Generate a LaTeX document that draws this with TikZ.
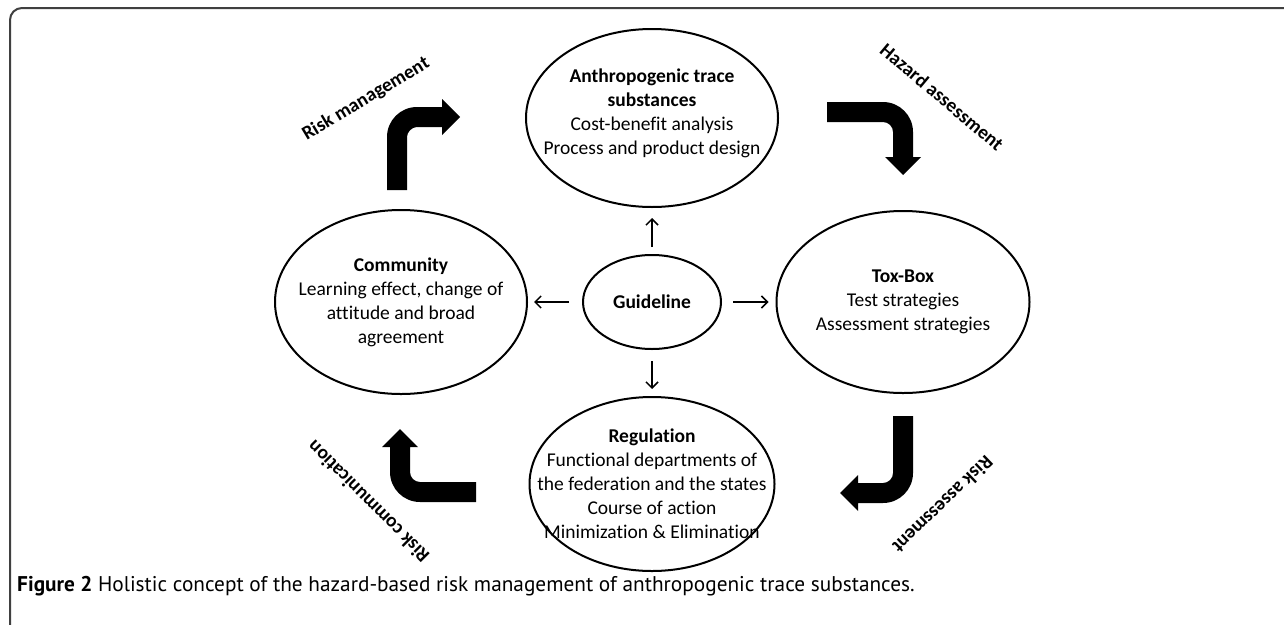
\documentclass[tikz,border=0pt]{standalone}
\usepackage{fontspec}
\setmainfont{Carlito}[Ligatures=NoCommon]
\newfontfamily\capfont{PT Sans}
\usetikzlibrary{shapes.geometric,arrows.meta}
\begin{document}
\begin{tikzpicture}[x=1pt,y=-1pt,
  oval/.style={ellipse, draw, line width=2pt, inner sep=0pt},
  txt/.style={align=center, font=\fontsize{19.5}{24}\selectfont, inner sep=0pt},
  lbl/.style={font=\bfseries\fontsize{19.5}{24}\selectfont, inner sep=0pt},
  spoke/.style={line width=1.5pt, -{Straight Barb[length=6pt,width=12pt]}},
  bendarrow/.style={fill=black, draw=none}]
\useasboundingbox (0,0) rectangle (1284,624);
% frame
\draw[line width=2pt, black!75, rounded corners=12pt] (1300,8) -- (10,8) -- (10,636) -- (1300,636);
% ellipses
\node[oval, minimum width=252pt, minimum height=178pt,
  label={[txt,yshift=5pt]center:{\textbf{Anthropogenic trace}\\\textbf{substances}\\Cost-benefit analysis\\Process and product design}}] (anth) at (652,118) {};
\node[oval, minimum width=138pt, minimum height=94pt, font=\bfseries\fontsize{19.5}{24}\selectfont] (guide) at (652,302) {Guideline};
\node[oval, minimum width=252pt, minimum height=184pt,
  label={[txt]center:{\textbf{Community}\\Learning effect, change of\\attitude and broad\\agreement}}] (comm) at (401,302) {};
\node[oval, minimum width=253pt, minimum height=182pt,
  label={[txt]center:{\textbf{Tox-Box}\\Test strategies\\Assessment strategies}}] (tox) at (903,302) {};
\node[oval, minimum width=245pt, minimum height=174pt,
  label={[txt]center:{\textbf{Regulation}\\Functional departments of\\the federation and the states\\Course of action\\Minimization \& Elimination}}] (reg) at (652,484) {};
% spokes
\draw[spoke, shorten <=7pt, shorten >=10pt] (guide) -- (anth);
\draw[spoke, shorten <=13pt, shorten >=6pt] (guide) -- (comm);
\draw[spoke, shorten <=11pt, shorten >=7pt] (guide) -- (tox);
\draw[spoke, shorten <=11pt, shorten >=7pt] (guide) -- (reg);
% bent arrows
\fill[bendarrow] (387,190) -- (387,137) .. controls (387,120.4) and (400.4,107) .. (417,107) -- (442,107) -- (442,99) -- (460,117) -- (442,135) -- (442,127) -- (417,127) .. controls (411.5,127) and (407,132.5) .. (407,137) -- (407,190) -- cycle;
\fill[bendarrow] (827,102) -- (883,102) .. controls (899.6,102) and (913,115.4) .. (913,132) -- (913,157) -- (921,157) -- (903,175) -- (885,157) -- (893,157) -- (893,132) .. controls (893,126.5) and (888.5,122) .. (883,122) -- (827,122) -- cycle;
\fill[bendarrow] (893,416) -- (913,416) -- (913,473) .. controls (913,489.6) and (899.6,503) .. (883,503) -- (858,503) -- (858,511) -- (840,493) -- (858,475) -- (858,483) -- (883,483) .. controls (888.5,483) and (893,478.5) .. (893,473) -- cycle;
\fill[bendarrow] (476,482) -- (476,502) -- (420,502) .. controls (403.4,502) and (390,488.6) .. (390,472) -- (390,447) -- (382,447) -- (400,429) -- (418,447) -- (410,447) -- (410,472) .. controls (410,477.5) and (414.5,482) .. (420,482) -- cycle;
% labels
\node[lbl, rotate=31] (lrm) at (366,99) {Risk management};
\node[lbl, rotate=-40] (lha) at (942,97) {Hazard assessment};
\node[lbl, rotate=-136] (lra) at (943,505) {Risk assessment};
\node[lbl, rotate=135] (lrc) at (368,502) {Risk communication};
% caption
\node[anchor=west, inner sep=0pt, font=\capfont\fontsize{21.3}{25}\selectfont] (cap) at (17,586) {\textbf{Figure 2} Holistic concept of the hazard-based risk management of anthropogenic trace substances.};
\end{tikzpicture}
\end{document}
